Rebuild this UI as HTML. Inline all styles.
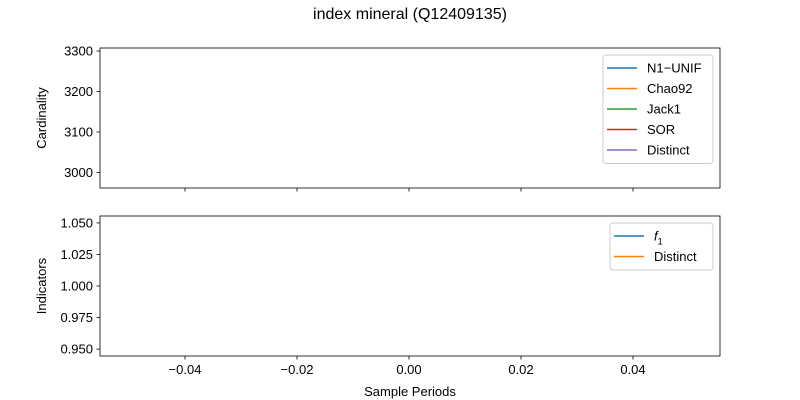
<!DOCTYPE html>
<html><head><meta charset="utf-8"><style>
body{margin:0;background:#fff}
svg{font-family:"Liberation Sans","DejaVu Sans",sans-serif;display:block}
</style></head><body>
<svg id="c" width="800" height="400">
<text x="410" y="19" font-size="16" text-anchor="middle">index mineral (Q12409135)</text>
</svg>
<script>
const xTicks=[-0.04,-0.02,0.00,0.02,0.04];
const topTicks=[3000,3100,3200,3300];
const botTicks=[0.950,0.975,1.000,1.025,1.050];
const periods=[0];
const topNames=["N1\u2212UNIF","Chao92","Jack1","SOR","Distinct"];
const topColors=["#1f77b4","#ff7f0e","#2ca02c","#d62728","#9467bd"];
const topValues=[[3140],[3140],[3140],[3140],[3140]];
const botNames=["f1","Distinct"];
const botColors=["#1f77b4","#ff7f0e"];
const botValues=[[1],[1]];
const svg=document.getElementById('c');const NS="http://www.w3.org/2000/svg";
function mk(t,a,p){const e=document.createElementNS(NS,t);for(const k in a)e.setAttribute(k,a[k]);(p||svg).appendChild(e);return e;}
const X=v=>409+v*5600;
const Yt=v=>172.5-(v-3000)*0.405;
const Yb=v=>286-(v-1)*1262;
function axes(y0,y1,ticks,Y,fmt,label,name,showX){
  const g=mk('g',{});
  
  
  mk('rect',{x:100,y:y0,width:620,height:y1-y0,fill:'none',stroke:'#000','stroke-width':0.8},g);
  ticks.forEach(t=>{const y=Y(t);
    mk('line',{x1:96.5,x2:100,y1:y,y2:y,stroke:'#000','stroke-width':0.8},g);
    const tx=mk('text',{x:93,y:y+4.5,'font-size':13,'text-anchor':'end'},g);tx.textContent=fmt(t);
    
    });
  xTicks.forEach(t=>{const x=X(t);
    mk('line',{x1:x,x2:x,y1:y1,y2:y1+3.5,stroke:'#000','stroke-width':0.8},g);
    if(showX){const tx=mk('text',{x:x,y:y1+18,'font-size':13,'text-anchor':'middle'},g);tx.textContent=t.toFixed(2).replace('-','\u2212');
      
      }});
  const yl=mk('text',{x:0,y:0,'font-size':13,'text-anchor':'middle',transform:`translate(46,${(y0+y1)/2}) rotate(-90)`},g);yl.textContent=label;
  
  
}
axes(48,188,topTicks,Y=Yt,v=>String(v),'Cardinality','top-axes',false);
axes(216,356,botTicks,Yb,v=>v.toFixed(3),'Indicators','bottom-axes',true);
const xl=mk('text',{x:410,y:396,'font-size':13,'text-anchor':'middle'});xl.textContent='Sample Periods';


topValues.forEach((s,i)=>{const p=mk('polyline',{points:s.map((v,j)=>X(periods[j])+','+Yt(v)).join(' '),fill:'none',stroke:topColors[i],'stroke-width':1.5});
  
  });
botValues.forEach((s,i)=>{const p=mk('polyline',{points:s.map((v,j)=>X(periods[j])+','+Yb(v)).join(' '),fill:'none',stroke:botColors[i],'stroke-width':1.5});
  
  });
function legend(x,y,w,names,colors,name){
  const g=mk('g',{});
  
  
  mk('rect',{x:x,y:y,width:w,height:names.length*20.5+6,rx:3,fill:'#fff',stroke:'#ccc'},g);
  names.forEach((n,i)=>{const yy=y+13+i*20.5;
    mk('line',{x1:x+4,x2:x+34,y1:yy,y2:yy,stroke:colors[i],'stroke-width':1.5},g);
    const t=mk('text',{x:x+44,y:yy+4.5,'font-size':13},g);
    if(n==='f1'){t.innerHTML='<tspan font-style="italic">f</tspan><tspan font-size="9" dy="4">1</tspan>';}else t.textContent=n;
    
    });
}
legend(603,55,110,topNames,topColors,'top-legend');
legend(610,223,103,botNames,botColors,'bottom-legend');
</script>
</body></html>
